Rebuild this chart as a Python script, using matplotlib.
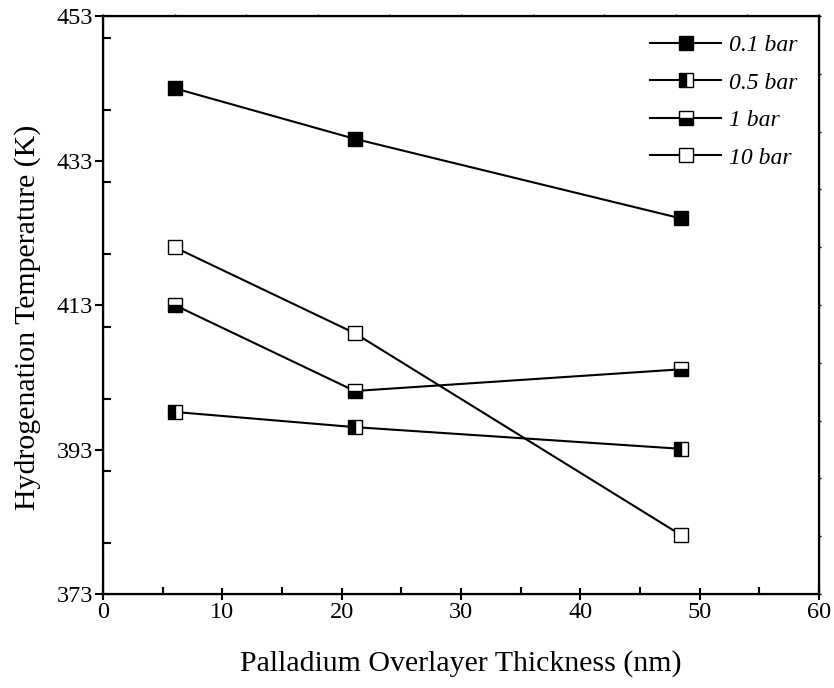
import numpy as np
import matplotlib
matplotlib.use('Agg')
import matplotlib.pyplot as plt
from matplotlib.ticker import MultipleLocator

plt.rcParams['font.family'] = ['Liberation Serif', 'DejaVu Serif']

thickness = [6.0, 21.1, 48.4]
labels = ['0.1 bar', '0.5 bar', '1 bar', '10 bar']
temps = {
    '0.1 bar': [443.0, 436.0, 425.0],
    '0.5 bar': [398.2, 396.1, 393.1],
    '1 bar': [413.0, 401.1, 404.1],
    '10 bar': [421.0, 409.1, 381.2],
}
fills = {'0.1 bar': 'full', '0.5 bar': 'left', '1 bar': 'bottom', '10 bar': 'none'}

fig = plt.figure(figsize=(8.34, 6.88), dpi=100)
ax = fig.add_axes([0.1235, 0.1366, 0.8585, 0.8401])

for lab in labels:
    fs = fills[lab]
    kw = dict(color='black', lw=1.5, marker='s', markersize=9.5,
              markeredgecolor='black', markeredgewidth=1.0, label=lab)
    if fs == 'none':
        kw.update(markerfacecolor='white')
    else:
        kw.update(fillstyle=fs, markerfacecolor='black', markerfacecoloralt='white')
    ax.plot(thickness, temps[lab], **kw)

ax.set_xlim(0, 60)
ax.set_ylim(373, 453)
ax.xaxis.set_major_locator(MultipleLocator(10))
ax.xaxis.set_minor_locator(MultipleLocator(5))
ax.set_yticks([373, 393, 413, 433, 453])
ax.yaxis.set_minor_locator(MultipleLocator(10))

for s in ax.spines.values():
    s.set_linewidth(1.6)

ax.tick_params(axis='x', which='major', direction='inout', length=9, width=1.5, labelsize=17.5, pad=1)
ax.tick_params(axis='x', which='minor', direction='in', length=5, width=1.5)
ax.tick_params(axis='y', which='major', direction='out', length=6, width=1.5, labelsize=17.5, pad=1)
ax.tick_params(axis='y', which='minor', direction='in', length=6, width=1.5)

# tiny marks on the opposite spines
axr = ax.twinx()
axr.set_ylim(373, 453)
axr.set_yticks(np.arange(373, 454, 8))
axr.tick_params(axis='y', direction='out', length=1.5, width=1.0, labelright=False)
axt = ax.twiny()
axt.set_xlim(0, 60)
axt.set_xticks(np.arange(0, 61, 6))
axt.tick_params(axis='x', direction='out', length=1.5, width=1.0, labeltop=False)

ax.set_xlabel('Palladium Overlayer Thickness (nm)', fontsize=21.5, labelpad=20)
ax.set_ylabel('Hydrogenation Temperature (K)', fontsize=21.5)
ax.yaxis.set_label_coords(-0.087, 0.479)

leg = ax.legend(loc='upper right', frameon=False, handlelength=3.0, handletextpad=0.35,
                labelspacing=0.68, prop={'style': 'italic', 'size': 17},
                bbox_to_anchor=(1.0, 1.005))

fig.savefig('out.png', dpi=100)
